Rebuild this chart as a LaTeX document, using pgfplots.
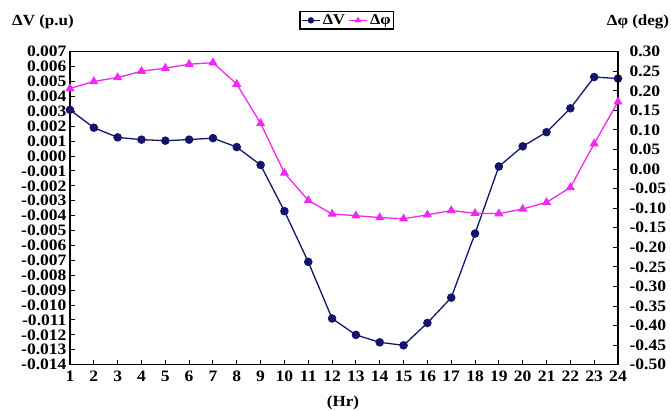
\documentclass[border=0pt]{standalone}
\usepackage{pgfplots}
\pgfplotsset{compat=1.18}
\usepackage{fontspec}
\setmainfont{Liberation Serif}[FakeStretch=1.1]
\definecolor{navy}{RGB}{20,20,110}
\definecolor{mag}{RGB}{240,40,240}
\begin{document}
\begin{tikzpicture}
\pgfplotsset{
  common/.style={
    scale only axis, width=548bp, height=313bp,
    xmin=1, xmax=24,
    tick align=inside, major tick length=5bp,
    tick style={black, line width=1pt},
    /pgf/number format/assume math mode=true,
    ticklabel style={font=\fontsize{16}{16}\selectfont\bfseries},
    scaled y ticks=false,
    clip=false,
  }
}
\begin{axis}[common, name=main,
  ymin=-0.014, ymax=0.007,
  axis line style={black, line width=1.3pt},
  xtick={1,...,24}, xtick pos=bottom,
  ytick={-0.014,-0.013,-0.012,-0.011,-0.010,-0.009,-0.008,-0.007,-0.006,-0.005,-0.004,-0.003,-0.002,-0.001,0,0.001,0.002,0.003,0.004,0.005,0.006,0.007},
  ytick pos=left,
  yticklabel style={/pgf/number format/.cd, fixed, fixed zerofill, precision=3},
  xticklabel style={yshift=-3bp},
]
\addplot[navy, line width=1.3pt, mark=*, mark size=3.6bp] coordinates {
(1,0.0031) (2,0.0019) (3,0.00125) (4,0.0011) (5,0.00103) (6,0.0011) (7,0.0012) (8,0.0006)
(9,-0.0006) (10,-0.0037) (11,-0.0071) (12,-0.0109) (13,-0.0120) (14,-0.0125) (15,-0.0127)
(16,-0.0112) (17,-0.0095) (18,-0.0052) (19,-0.0007) (20,0.00065) (21,0.0016) (22,0.0032)
(23,0.0053) (24,0.0052)};
\end{axis}
\begin{axis}[common,
  ymin=-0.5, ymax=0.3,
  axis x line=none, axis y line*=right,
  axis line style={black, line width=1.3pt},
  ytick={-0.5,-0.45,-0.4,-0.35,-0.3,-0.25,-0.2,-0.15,-0.1,-0.05,0,0.05,0.1,0.15,0.2,0.25,0.3},
  yticklabel style={xshift=8bp, /pgf/number format/.cd, fixed, fixed zerofill, precision=2},
  legend style={at={(0.505,1)}, anchor=south, yshift=22bp, legend columns=2,
    draw=black, line width=1.3pt, font=\fontsize{15}{15}\selectfont\bfseries,
    inner sep=1pt, row sep=0pt, /tikz/every even column/.append style={column sep=1pt}},
  legend image code/.code={\draw[mark repeat=2,mark phase=2, mark size=2.5bp] plot coordinates {(0cm,0cm) (0.33cm,0cm) (0.66cm,0cm)};},
]
\addlegendimage{navy, line width=1.3pt, mark=*}
\addlegendentry{ΔV}
\addplot[mag, line width=1.3pt, mark=triangle*, mark size=4bp] coordinates {
(1,0.206) (2,0.224) (3,0.234) (4,0.250) (5,0.258) (6,0.268) (7,0.272) (8,0.217)
(9,0.117) (10,-0.010) (11,-0.080) (12,-0.115) (13,-0.119) (14,-0.124) (15,-0.127)
(16,-0.117) (17,-0.106) (18,-0.113) (19,-0.114) (20,-0.102) (21,-0.085) (22,-0.047)
(23,0.065) (24,0.172)};
\addlegendentry{Δφ}
\end{axis}
\node[font=\fontsize{15.5}{16}\selectfont\bfseries] at ([shift={(-27bp,30bp)}]main.north west) {ΔV (p.u)};
\node[font=\fontsize{15.5}{16}\selectfont\bfseries] at ([shift={(20bp,30bp)}]main.north east) {Δφ (deg)};
\node[font=\fontsize{15.5}{16}\selectfont\bfseries] at ([shift={(-1bp,-38bp)}]main.south) {(Hr)};
\pgfresetboundingbox
\path[use as bounding box] ([shift={(-70bp,-46bp)}]main.south west) rectangle ([shift={(53bp,51.7bp)}]main.north east);
\end{tikzpicture}
\end{document}
